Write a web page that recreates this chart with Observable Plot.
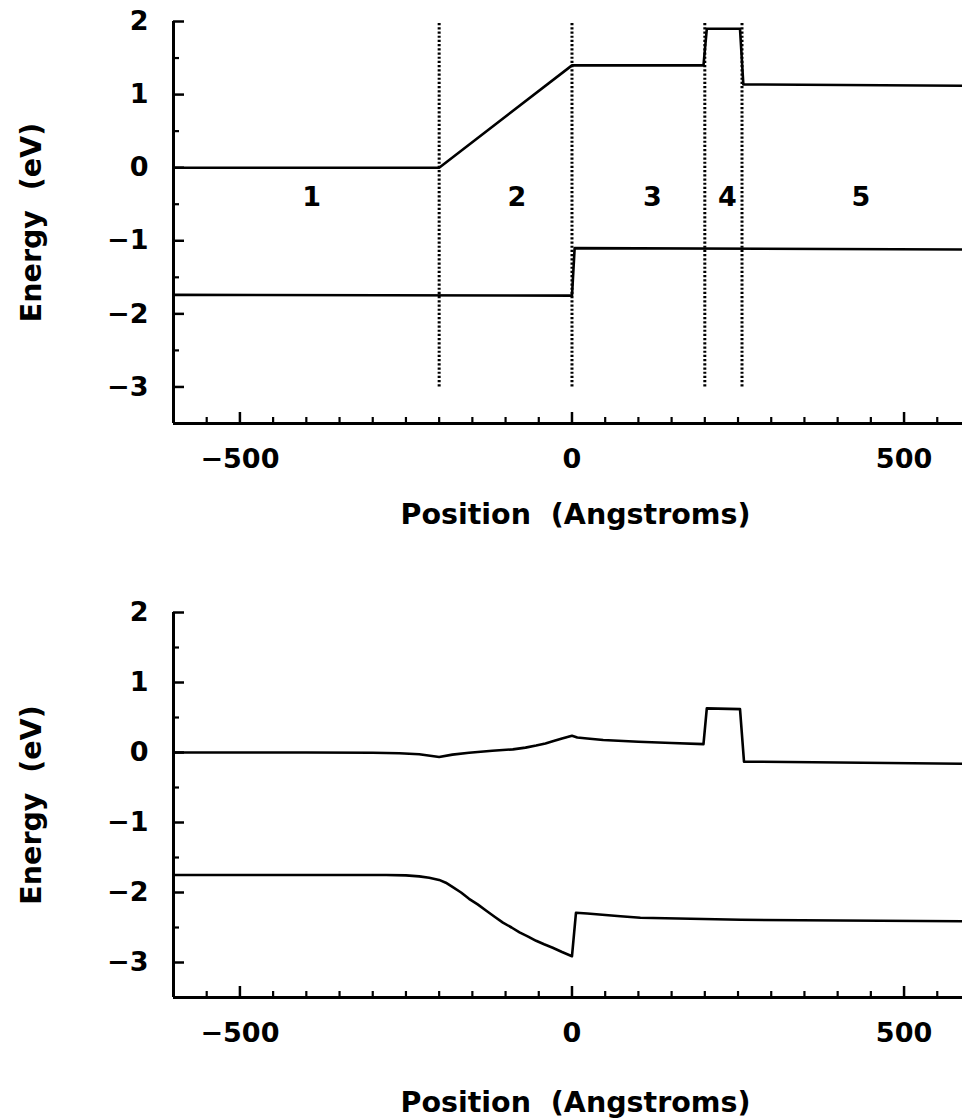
<!DOCTYPE html>
<html>
<head>
<meta charset="utf-8">
<script src="https://cdn.jsdelivr.net/npm/d3@7"></script>
<script src="https://cdn.jsdelivr.net/npm/@observablehq/plot@0.6"></script>
<style>
html, body { margin: 0; padding: 0; background: #fff; overflow: hidden; }
#chart svg { display: block; }
#chart svg text { white-space: pre; }
</style>
</head>
<body>
<div id="chart"></div>
<script>
// ---------- shared axis data ----------
const xDomain = [-600, 588];
const yDomain = [-3.5, 2];
const xMajorTicks = [-500, 0, 500];
const xMinorTicks = [-550, -450, -400, -350, -300, -250, -200, -150, -100, -50,
                     50, 100, 150, 200, 250, 300, 350, 400, 450, 550];
const yMajorTicks = [-3, -2, -1, 0, 1, 2];
const yMinorTicks = [-2.5, -1.5, -0.5, 0.5, 1.5];
const xTitle = "Position  (Angstroms)";
const yTitle = "Energy  (eV)";

// ---------- top panel (flat-band diagram) ----------
const topCondX = [-600, -200, 0, 198, 203, 253, 258, 588];
const topCondY = [0, 0, 1.40, 1.40, 1.90, 1.90, 1.14, 1.12];
const topValX = [-600, 0, 4, 588];
const topValY = [-1.74, -1.75, -1.10, -1.12];
const regionBoundaries = [-200, 0, 200, 256];
const boundaryBottom = -3;
const boundaryTop = 2;
const regionLabels = ["1", "2", "3", "4", "5"];
const regionLabelX = [-392, -83, 121, 234, 435];
const regionLabelY = [-0.40, -0.40, -0.40, -0.40, -0.40];

// ---------- bottom panel (self-consistent bands) ----------
const botCondX = [-600, -400, -300, -260, -230, -200, -180, -155, -120, -89, -70, -54, -40, -29, -15, 0,
                  8, 23, 47, 100, 150, 198, 203, 253, 259, 364, 588];
const botCondY = [0, 0, -0.003, -0.01, -0.025, -0.065, -0.03, -0.003, 0.025, 0.045, 0.07, 0.10, 0.13, 0.16, 0.20, 0.24,
                  0.215, 0.20, 0.178, 0.153, 0.135, 0.12, 0.63, 0.62, -0.13, -0.14, -0.16];
const botValX = [-600, -280, -250, -230, -215, -200, -190, -180, -167, -155, -142, -129, -116, -104, -91, -79, -66, -54, -42, -29, -15, 0,
                 6, 23, 73, 103, 254, 404, 588];
const botValY = [-1.75, -1.75, -1.755, -1.77, -1.79, -1.82, -1.86, -1.92, -2.0, -2.09, -2.17, -2.26, -2.35, -2.43, -2.50, -2.57, -2.63, -2.69, -2.74, -2.79, -2.85, -2.91,
                 -2.29, -2.30, -2.34, -2.36, -2.39, -2.40, -2.41];

function rows(xs, ys, series) {
  return xs.map((x, i) => ({x, y: ys[i], series}));
}

const W = 962;
const marginLeft = 173;
const marginRight = 0;
const plotW = W - marginLeft - marginRight;

function panel({height, marginTop, marginBottom, lines, extra, titleDy}) {
  const plotH = height - marginTop - marginBottom;
  return Plot.plot({
    width: W,
    height,
    marginLeft,
    marginRight,
    marginTop,
    marginBottom,
    style: {fontFamily: "DejaVu Sans", fontWeight: "bold", fontSize: "27px", color: "black", background: "white"},
    x: {domain: xDomain, label: null},
    y: {domain: yDomain, label: null},
    marks: [
      ...extra,
      Plot.line(lines, {x: "x", y: "y", z: "series", stroke: "black", strokeWidth: 2.6}),
      // inward ticks
      Plot.ruleY(yMajorTicks, {insetRight: plotW - 11, strokeWidth: 2.5}),
      Plot.ruleY(yMinorTicks, {insetRight: plotW - 6, strokeWidth: 2.2}),
      Plot.ruleX(xMajorTicks, {insetTop: plotH - 11, strokeWidth: 2.5}),
      Plot.ruleX(xMinorTicks, {insetTop: plotH - 6, strokeWidth: 2.2}),
      // axis lines
      Plot.ruleX([xDomain[0]], {y1: yDomain[0], y2: yDomain[1], strokeWidth: 3}),
      Plot.ruleY([yDomain[0]], {strokeWidth: 3}),
      // tick labels
      Plot.axisX(xMajorTicks, {tickSize: 0, tickPadding: 25, label: null, tickFormat: "d"}),
      Plot.axisY(yMajorTicks, {tickSize: 0, tickPadding: 25, label: null, tickFormat: "d"}),
      // titles
      Plot.text([xTitle], {frameAnchor: "bottom", lineAnchor: "middle", textAnchor: "middle", dx: 7.5, dy: titleDy, fontSize: 28.5}),
      Plot.text([yTitle], {frameAnchor: "left", lineAnchor: "middle", textAnchor: "middle", rotate: -90, dx: -142, fontSize: 28.5})
    ]
  });
}

const topLines = [...rows(topCondX, topCondY, "conduction"), ...rows(topValX, topValY, "valence")];
const regions = regionLabels.map((label, i) => ({label, x: regionLabelX[i], y: regionLabelY[i]}));

const topPlot = panel({
  height: 560, marginTop: 21, marginBottom: 137, lines: topLines, titleDy: 91,
  extra: [
    Plot.ruleX(regionBoundaries, {y1: boundaryBottom, y2: boundaryTop, stroke: "black", strokeWidth: 3, strokeDasharray: "2.2,2"}),
    Plot.text(regions, {x: "x", y: "y", text: "label", fontSize: 27})
  ]
});

const botLines = [...rows(botCondX, botCondY, "conduction"), ...rows(botValX, botValY, "valence")];
const botPlot = panel({
  height: 559, marginTop: 52, marginBottom: 122, lines: botLines, titleDy: 105.5, extra: []
});

const chart = document.getElementById("chart");
chart.append(topPlot, botPlot);
</script>
</body>
</html>
